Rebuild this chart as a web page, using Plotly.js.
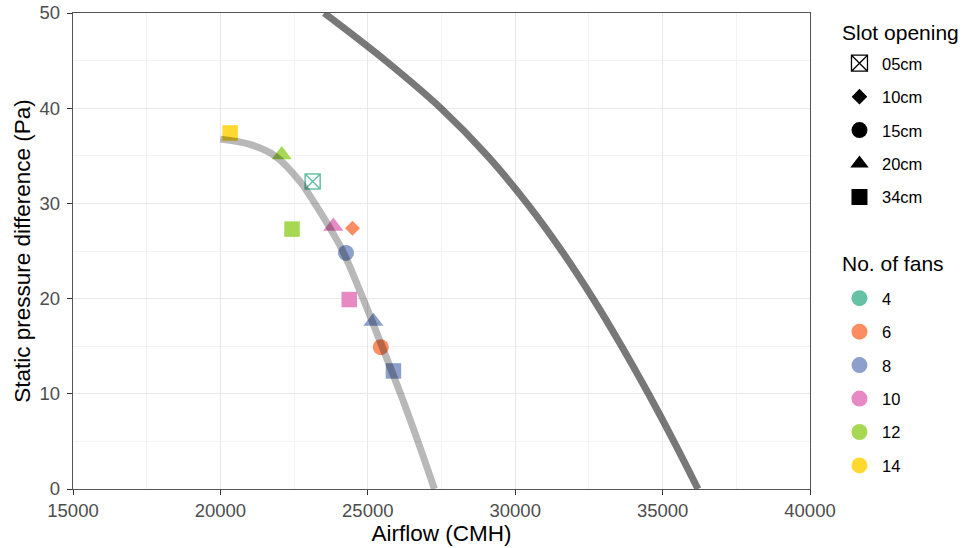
<!DOCTYPE html>
<html>
<head>
<meta charset="utf-8">
<script src="https://cdn.plot.ly/plotly-3.0.1.min.js"></script>
<style>
  html, body { margin: 0; padding: 0; background: #ffffff; }
  #chart { width: 966px; height: 548px; }
</style>
</head>
<body>
<div id="chart"></div>
<script>
// ---------------- data ----------------
const airflow  = [20330, 22080, 23130, 22430, 23830, 24480, 24260, 24370, 25190, 25440, 25870];
const pressure = [37.4, 35.1, 32.3, 27.3, 27.6, 27.4, 24.8, 19.9, 17.6, 14.9, 12.4];
const fans     = [14, 12, 4, 12, 10, 6, 8, 10, 8, 6, 8];
const slots    = ['34cm', '20cm', '05cm', '34cm', '20cm', '10cm', '15cm', '34cm', '20cm', '15cm', '34cm'];

// system curve (light grey)
const sysAirflow  = [20000, 21000, 21850, 22700, 23200, 23700, 24150, 24840, 25480, 26110, 26700, 27260];
const sysPressure = [36.75, 36.2, 35.0, 32.3, 30.0, 27.5, 25.0, 20.0, 15.0, 10.0, 5.0, 0.0];

// fan curve (dark grey)
const fanAirflow  = [23520, 25600, 27480, 29060, 30400, 31580, 32640, 33610, 34520, 35380, 36200];
const fanPressure = [50, 45, 40, 35, 30, 25, 20, 15, 10, 5, 0];

const slotLabels = ['05cm', '10cm', '15cm', '20cm', '34cm'];
const fanLabels  = [4, 6, 8, 10, 12, 14];
const slotTitle = 'Slot opening';
const fanTitle  = 'No. of fans';

// ---------------- styles ----------------
const fanColor = {4: '#66C2A5', 6: '#FC8D62', 8: '#8DA0CB', 10: '#E78AC3', 12: '#A6D854', 14: '#FFD92F'};
const slotSymbol = {'05cm': 'square-x-open', '10cm': 'diamond', '15cm': 'circle', '20cm': 'triangle-up', '34cm': 'square'};
const slotSize = {'05cm': 15, '10cm': 11.5, '15cm': 16, '20cm': 17.5, '34cm': 15.5};

const FONT = 'Liberation Sans, Arial, sans-serif';

const traces = [];

// fan curve
traces.push({
  x: fanAirflow, y: fanPressure, type: 'scatter', mode: 'lines',
  line: {color: 'rgba(0,0,0,0.53)', width: 7, shape: 'spline', smoothing: 1},
  showlegend: false, hoverinfo: 'skip'
});

// measured points
traces.push({
  x: airflow, y: pressure, type: 'scatter', mode: 'markers',
  marker: {
    opacity: 1,
    color: fans.map(f => fanColor[f]),
    symbol: slots.map(s => slotSymbol[s]),
    size: slots.map(s => slotSize[s]),
    line: {width: slots.map(s => s === '05cm' ? 1.5 : 0), color: fans.map(f => fanColor[f])}
  },
  showlegend: false, hoverinfo: 'skip'
});

// system curve drawn on top (semi-transparent)
traces.push({
  x: sysAirflow, y: sysPressure, type: 'scatter', mode: 'lines',
  line: {color: 'rgba(0,0,0,0.28)', width: 7, shape: 'spline', smoothing: 1},
  showlegend: false, hoverinfo: 'skip'
});

// legend: slot opening
slotLabels.forEach(s => {
  traces.push({
    x: [null], y: [null], type: 'scatter', mode: 'markers', name: s,
    legend: 'legend', legendgroup: 'slot' + s,
    marker: {color: '#000000', symbol: slotSymbol[s], size: s === '10cm' ? 12 : 16, opacity: 1,
             line: {width: s === '05cm' ? 1.3 : 0, color: '#000000'}}
  });
});

// legend: no. of fans
fanLabels.forEach(f => {
  traces.push({
    x: [null], y: [null], type: 'scatter', mode: 'markers', name: String(f),
    legend: 'legend2', legendgroup: 'fan' + f,
    marker: {color: fanColor[f], symbol: 'circle', size: 16, opacity: 1}
  });
});

const axisCommon = {
  showline: true, mirror: true, linecolor: '#555555', linewidth: 1.2,
  ticks: 'outside', ticklen: 5, tickcolor: '#333333', tickwidth: 1,
  gridcolor: '#e8e8e8', gridwidth: 1.3,
  zeroline: false, tickformat: 'd',
  tickfont: {family: FONT, size: 18.5, color: '#4d4d4d'}
};

const legendCommon = {
  xanchor: 'left', yanchor: 'top',
  bgcolor: 'rgba(0,0,0,0)', borderwidth: 0,
  font: {family: FONT, size: 16.5, color: '#000000'},
  tracegroupgap: 9, traceorder: 'grouped', itemwidth: 35
};

const layout = {
  width: 966, height: 548,
  margin: {l: 73, r: 156, t: 13, b: 59, pad: 0},
  paper_bgcolor: '#ffffff', plot_bgcolor: '#ffffff',
  font: {family: FONT, color: '#000000'},
  xaxis: Object.assign({}, axisCommon, {
    range: [15000, 40000], dtick: 5000, tick0: 15000,
    minor: {dtick: 2500, showgrid: true, gridcolor: '#f3f3f3', gridwidth: 1, ticks: ''},
    title: {text: 'Airflow (CMH)', font: {family: FONT, size: 22.5, color: '#000000'}, standoff: 1}
  }),
  yaxis: Object.assign({}, axisCommon, {
    range: [0, 50], dtick: 10, tick0: 0,
    minor: {dtick: 5, showgrid: true, gridcolor: '#f3f3f3', gridwidth: 1, ticks: ''},
    ticklabelstandoff: 3,
    title: {text: 'Static pressure difference (Pa)', font: {family: FONT, size: 22.5, color: '#000000'}, standoff: 2}
  }),
  legend: Object.assign({}, legendCommon, {x: 1.0366, y: 0.9307}),
  legend2: Object.assign({}, legendCommon, {x: 1.0366, y: 0.437}),
  annotations: [
    {text: slotTitle, xref: 'paper', yref: 'paper', x: 1.041, y: 0.960, xanchor: 'left', yanchor: 'middle',
     showarrow: false, font: {family: FONT, size: 21, color: '#000000'}},
    {text: fanTitle, xref: 'paper', yref: 'paper', x: 1.041, y: 0.4727, xanchor: 'left', yanchor: 'middle',
     showarrow: false, font: {family: FONT, size: 21, color: '#000000'}}
  ],
  showlegend: true
};

Plotly.newPlot('chart', traces, layout, {staticPlot: true, displayModeBar: false});
</script>
</body>
</html>
